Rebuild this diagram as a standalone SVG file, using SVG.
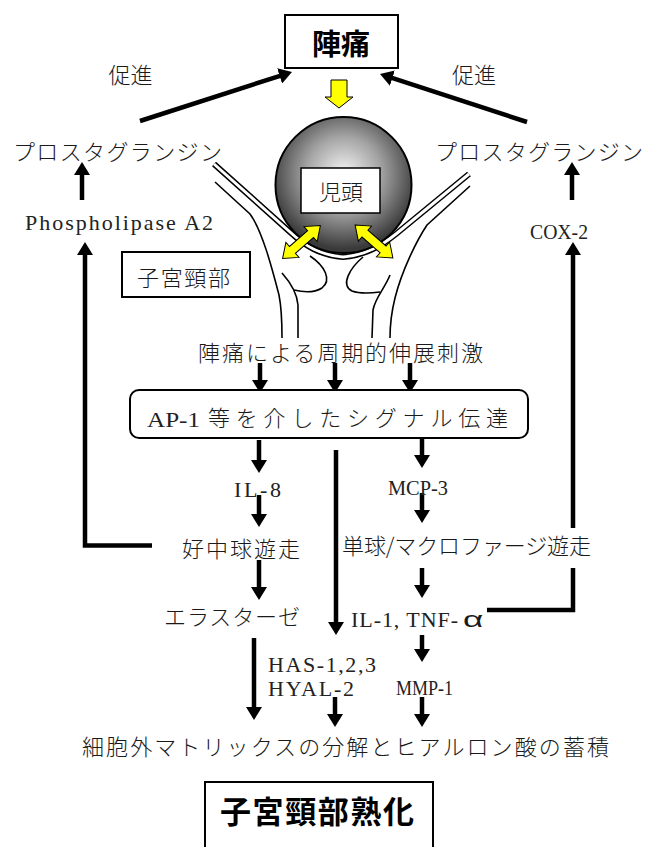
<svg xmlns="http://www.w3.org/2000/svg" width="650" height="847" viewBox="0 0 650 847">
<defs>
  <radialGradient id="headShade" cx="50%" cy="42%" r="55%">
    <stop offset="0" stop-color="#f6f6f6"/>
    <stop offset="0.5" stop-color="#a4a4a4"/>
    <stop offset="1" stop-color="#3a3a3a"/>
  </radialGradient>
  <marker id="head" viewBox="0 0 13 16" markerWidth="13" markerHeight="16" refX="0.5" refY="8" orient="auto" markerUnits="userSpaceOnUse">
    <path d="M0,0 L13,8 L0,16 z" fill="#000"/>
  </marker>
  <!-- double-headed block arrow, centred on the origin along x -->
  <polygon id="dblArrow" points="-25,0 -12,-10 -12,-4.5 12,-4.5 12,-10 25,0 12,10 12,4.5 -12,4.5 -12,10"/>
</defs>
<style>
  .jp{font-family:"Noto Sans CJK JP","Noto Sans",sans-serif;font-size:22px;font-weight:300;fill:#1a1a1a}
  .lat{font-family:"Liberation Serif","Noto Sans CJK JP",serif;font-size:22px;fill:#222}
  .title{font-family:"Noto Sans CJK JP",sans-serif;font-weight:bold;fill:#000}
  .box{fill:#fff;stroke:#000;stroke-width:2}
  .conn{fill:none;stroke:#000;stroke-width:4.5;marker-end:url(#head)}
  .wall{fill:none;stroke:#000;stroke-width:1.6}
  .yellow{fill:#ffff00;stroke:#000;stroke-width:1}
</style>
<rect width="650" height="847" fill="#fff"/>

<!-- cervix and fetal head illustration -->
<g id="cervix">
  <path class="wall" d="M215,182 L250,214 C262,230 272,268 279,295 C282,310 282,325 282,338"/>
  <path class="wall" d="M470,186 L427,225 C417,240 402,270 395,298 C391,314 390,326 390,338"/>
  <path class="wall" d="M282,273 C290,282 297,292 298,305 L298,338"/>
  <path class="wall" d="M310,256 C325,266 332,280 322,288 C314,293 302,292 294,290"/>
  <path class="wall" d="M390,275 C385,288 375,298 373,310 L372,338"/>
  <path class="wall" d="M363,257 C350,268 340,285 352,291 C360,294 372,293 380,292"/>
  <path d="M214,164 L290,232 C305,246 320,255 343,257 C366,255 381,246 396,234 L469,174" fill="none" stroke="#000" stroke-width="6"/>
  <path d="M214,164 L290,232 C305,246 320,255 343,257 C366,255 381,246 396,234 L469,174" fill="none" stroke="#fff" stroke-width="3"/>
</g>
<g id="fetal-head">
  <circle cx="343.5" cy="185" r="68" fill="url(#headShade)" stroke="#000" stroke-width="2"/>
  <rect x="301" y="168" width="79" height="45" fill="#fff" stroke="#000" stroke-width="1.5"/>
  <text class="jp" x="341" y="200" text-anchor="middle">児頭</text>
</g>
<g id="pressure-arrows">
  <polygon class="yellow" points="331,80 347,80 347,97 353,97 339,108 325,97 331,97"/>
  <use href="#dblArrow" class="yellow" transform="translate(301.5,242) rotate(-41)"/>
  <use href="#dblArrow" class="yellow" transform="translate(374,241.5) rotate(41)"/>
</g>

<!-- connectors -->
<g id="connectors">
  <path class="conn" d="M140,121 L280.1,75.8"/>
  <path class="conn" d="M527,122 L391.9,77.9"/>
  <path class="conn" d="M82,200 L82,174.5"/>
  <path class="conn" d="M572,200 L572,174.5"/>
  <path class="conn" d="M152,545.5 L85,545.5 L85,254.5"/>
  <path class="conn" d="M487,610 L573,610 L573,568 M573,528 L573,254.5"/>
  <path class="conn" d="M260,363 L260,380.5"/>
  <path class="conn" d="M335,363 L335,380.5"/>
  <path class="conn" d="M410,363 L410,380.5"/>
  <path class="conn" d="M259,440 L259,460.5"/>
  <path class="conn" d="M422,438 L422,455.5"/>
  <path class="conn" d="M259,495 L259,514.5"/>
  <path class="conn" d="M422,493 L422,510.5"/>
  <path class="conn" d="M259,560 L259,587.5"/>
  <path class="conn" d="M422,568 L422,585.5"/>
  <path class="conn" d="M336,450 L336,622.5"/>
  <path class="conn" d="M422,635 L422,649.5"/>
  <path class="conn" d="M254,638 L254,707.5"/>
  <path class="conn" d="M335,697 L335,714.5"/>
  <path class="conn" d="M422,697 L422,714.5"/>
</g>

<g id="labour-pain">
  <rect class="box" x="285" y="15" width="113" height="53" stroke-width="2.5"/>
  <text class="title" x="341" y="55" font-size="29" text-anchor="middle">陣痛</text>
</g>
<g id="promote-left"><text class="jp" x="130.5" y="83" font-size="23" text-anchor="middle">促進</text></g>
<g id="promote-right"><text class="jp" x="474" y="83" font-size="23" text-anchor="middle">促進</text></g>
<g id="pg-left"><text class="jp" x="13" y="160" textLength="209">プロスタグランジン</text></g>
<g id="pg-right"><text class="jp" x="435" y="160" textLength="208">プロスタグランジン</text></g>
<g id="pla2"><text class="lat" x="25" y="230" textLength="188">Phospholipase A2</text></g>
<g id="cox2"><text class="lat" x="530" y="239" font-size="23" textLength="58" lengthAdjust="spacingAndGlyphs">COX-2</text></g>
<g id="cervix-label">
  <rect class="box" x="122" y="252" width="128" height="45"/>
  <text class="jp" x="137" y="286" textLength="93">子宮頸部</text>
</g>
<g id="stretch"><text class="jp" x="198" y="361" textLength="285">陣痛による周期的伸展刺激</text></g>
<g id="ap1">
  <rect class="box" x="130" y="390" width="398" height="48" rx="9"/>
  <text><tspan class="lat" x="147" y="427" font-size="25" textLength="53" lengthAdjust="spacingAndGlyphs">AP-1</tspan><tspan class="jp" x="208" y="426" font-size="26.5" textLength="300">等を介したシグナル伝達</tspan></text>
</g>
<g id="il8"><text class="lat" x="234" y="497" textLength="47">IL-8</text></g>
<g id="mcp3"><text class="lat" x="388" y="495" font-size="23" textLength="60" lengthAdjust="spacingAndGlyphs">MCP-3</text></g>
<g id="neutrophil"><text class="jp" x="182" y="557" textLength="118">好中球遊走</text></g>
<g id="macrophage"><text class="jp" x="342" y="554" font-size="21" textLength="249">単球/マクロファージ遊走</text></g>
<g id="elastase"><text class="jp" x="164" y="625" textLength="136">エラスターゼ</text></g>
<g id="il1-tnf">
  <text class="lat" x="351" y="627" textLength="107">IL-1, TNF-</text>
  <text transform="translate(463,627) scale(1.6,1)" font-family="Liberation Sans, sans-serif" font-size="22" fill="#1a1a1a">α</text>
</g>
<g id="has-hyal">
  <text class="lat" x="268" y="672" font-size="23" textLength="108">HAS-1,2,3</text>
  <text class="lat" x="268" y="696" font-size="23" textLength="86">HYAL-2</text>
</g>
<g id="mmp1"><text class="lat" x="396" y="695" font-size="23" textLength="57" lengthAdjust="spacingAndGlyphs">MMP-1</text></g>
<g id="ecm"><text class="jp" x="82" y="755" font-size="22.5" textLength="527">細胞外マトリックスの分解とヒアルロン酸の蓄積</text></g>
<g id="ripening">
  <rect class="box" x="205" y="782" width="228" height="80" stroke-width="2.5"/>
  <text class="title" x="220" y="823" font-size="31" textLength="194">子宮頸部熟化</text>
</g>
</svg>
